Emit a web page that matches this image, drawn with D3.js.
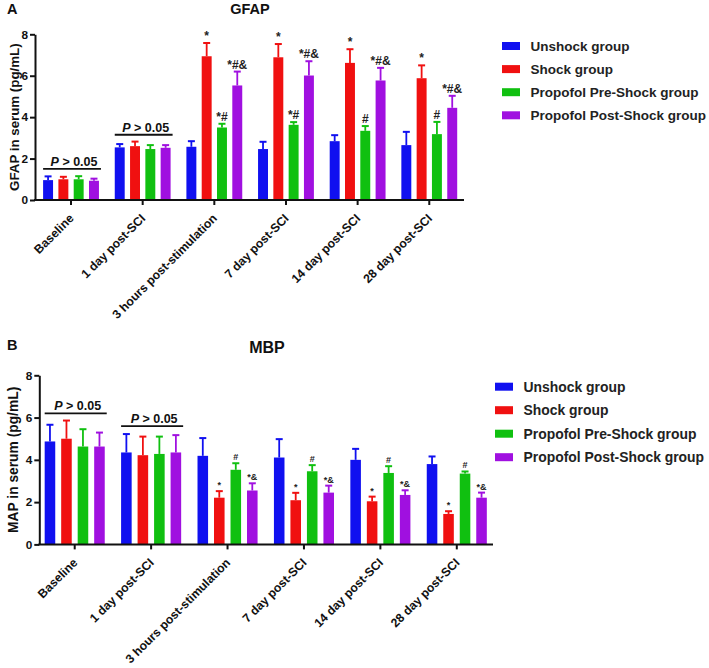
<!DOCTYPE html>
<html><head><meta charset="utf-8">
<script src="https://cdn.jsdelivr.net/npm/d3@7"></script>
<style>
html,body{margin:0;padding:0;background:#fff;}
svg{display:block;font-family:"Liberation Sans",Arial,sans-serif;font-weight:bold;}
</style></head>
<body>
<svg id="chart" width="709" height="668"></svg>
<script>
const categories = ["Baseline","1 day post-SCI","3 hours post-stimulation","7 day post-SCI","14 day post-SCI","28 day post-SCI"];
const groups = ["Unshock group","Shock group","Propofol Pre-Shock group","Propofol Post-Shock group"];
const colors = ["#1010F0","#F01010","#10C010","#A010E0"];
const yTicks = [0,2,4,6,8];

// GFAP (panel A): mean and upper error per group across categories
const gfapUnshock = [0.96, 2.54, 2.57, 2.46, 2.84, 2.65];
const gfapShock   = [1.00, 2.60, 6.94, 6.89, 6.62, 5.88];
const gfapPre     = [1.00, 2.46, 3.50, 3.63, 3.34, 3.18];
const gfapPost    = [0.93, 2.52, 5.53, 6.01, 5.77, 4.45];
const gfapUnshockErr = [0.18, 0.16, 0.27, 0.35, 0.29, 0.64];
const gfapShockErr   = [0.12, 0.22, 0.64, 0.64, 0.66, 0.62];
const gfapPreErr     = [0.15, 0.19, 0.18, 0.13, 0.23, 0.59];
const gfapPostErr    = [0.10, 0.13, 0.67, 0.69, 0.61, 0.58];
const gfapMarks = [
  ["","","","","",""],
  ["","","*","*","*","*"],
  ["","","*#","*#","#","#"],
  ["","","*#&","*#&","*#&","*#&"]
];

// MBP (panel B)
const mbpUnshock = [4.87, 4.35, 4.19, 4.11, 4.00, 3.80];
const mbpShock   = [5.00, 4.22, 2.21, 2.09, 2.04, 1.44];
const mbpPre     = [4.63, 4.28, 3.53, 3.46, 3.38, 3.35];
const mbpPost    = [4.63, 4.35, 2.55, 2.45, 2.34, 2.21];
const mbpUnshockErr = [0.79, 0.87, 0.84, 0.87, 0.52, 0.36];
const mbpShockErr   = [0.86, 0.88, 0.31, 0.35, 0.22, 0.13];
const mbpPreErr     = [0.82, 0.82, 0.31, 0.29, 0.32, 0.10];
const mbpPostErr    = [0.66, 0.82, 0.34, 0.33, 0.22, 0.24];
const mbpMarks = [
  ["","","","","",""],
  ["","","*","*","*","*"],
  ["","","#","#","#","#"],
  ["","","*&","*&","*&","*&"]
];
const nsLabel = "> 0.05";
const nsCategories = ["Baseline","1 day post-SCI"];

const svg = d3.select("#chart");

function panel(cfg){
  const g = svg.append("g");
  const y = d3.scaleLinear().domain([0,8]).range([cfg.y0, cfg.y8]);
  const x0 = d3.scaleBand().domain(categories).range(cfg.xRange);
  const x1 = d3.scaleBand().domain(groups).range([-cfg.half, cfg.half]).paddingInner(cfg.pad).paddingOuter(cfg.pad/2);

  const rows = [];
  groups.forEach((grp,gi)=>{
    categories.forEach((c,ci)=>{
      rows.push({grp, gi, c, v: cfg.means[gi][ci], e: cfg.errs[gi][ci], m: cfg.marks[gi][ci]});
    });
  });
  const bx = d => x0(d.c) + x0.bandwidth()/2 + x1(d.grp);
  g.selectAll("rect.bar").data(rows).join("rect")
    .attr("x", bx).attr("width", x1.bandwidth())
    .attr("y", d=>y(d.v)).attr("height", d=>y(0)-y(d.v))
    .attr("fill", d=>colors[d.gi]);
  const cx = d => bx(d) + x1.bandwidth()/2;
  g.selectAll("line.err").data(rows).join("line")
    .attr("x1", cx).attr("x2", cx)
    .attr("y1", d=>y(d.v)).attr("y2", d=>y(d.v+d.e))
    .attr("stroke", d=>colors[d.gi]).attr("stroke-width", 1.8);
  g.selectAll("line.cap").data(rows).join("line")
    .attr("x1", d=>cx(d)-3.5).attr("x2", d=>cx(d)+3.5)
    .attr("y1", d=>y(d.v+d.e)).attr("y2", d=>y(d.v+d.e))
    .attr("stroke", d=>colors[d.gi]).attr("stroke-width", 2);
  g.selectAll("text.mark").data(rows.filter(d=>d.m)).join("text")
    .attr("x", cx).attr("y", d=>y(d.v+d.e)-3)
    .attr("text-anchor","middle").attr("font-size", cfg.markSize).attr("fill","#222")
    .text(d=>d.m);

  nsCategories.forEach((c,i)=>{
    const left = x0(c)+x0.bandwidth()/2 + x1(groups[0]);
    const right = x0(c)+x0.bandwidth()/2 + x1(groups[3]) + x1.bandwidth();
    const ly = y(cfg.nsLevel[i]);
    g.append("line").attr("x1", left).attr("x2", right+2).attr("y1", ly).attr("y2", ly)
      .attr("stroke","#111").attr("stroke-width",1.8);
    const t = g.append("text").attr("x",(left+right)/2+3).attr("y", ly-3)
      .attr("text-anchor","middle").attr("font-size",12.5).attr("fill","#111");
    t.append("tspan").attr("font-style","italic").text("P");
    t.append("tspan").text(" " + nsLabel);
  });

  const ya = g.append("g").attr("transform",`translate(${cfg.yAxisX},0)`)
    .call(d3.axisLeft(y).tickValues(yTicks).tickSize(5).tickSizeOuter(0).tickPadding(2));
  ya.select(".domain").attr("stroke","#111").attr("stroke-width",2);
  ya.selectAll(".tick line").attr("stroke","#111").attr("stroke-width",2);
  ya.selectAll(".tick text").attr("font-size",11.8).attr("font-weight","bold").attr("fill","#111")
    .attr("font-family","Liberation Sans, Arial, sans-serif");

  const xa = g.append("g").attr("transform",`translate(0,${cfg.y0})`)
    .call(d3.axisBottom(x0).tickSize(5).tickSizeOuter(0));
  xa.select(".domain").remove();
  xa.insert("line",":first-child").attr("x1",cfg.yAxisX-1).attr("x2",cfg.xEnd).attr("y1",0).attr("y2",0)
    .attr("stroke","#111").attr("stroke-width",2);
  xa.selectAll(".tick line").attr("stroke","#111").attr("stroke-width",2);
  xa.selectAll(".tick text").attr("font-size",12.2).attr("font-weight","bold").attr("fill","#111")
    .attr("font-family","Liberation Sans, Arial, sans-serif")
    .attr("text-anchor","end").attr("y",0).attr("dy","0.35em")
    .attr("transform","translate(0.5,16) rotate(-45)");

  g.append("text").attr("transform",`translate(${cfg.yLabelX},${(cfg.y0+cfg.y8)/2}) rotate(-90)`)
    .attr("text-anchor","middle").attr("font-size",cfg.yLabelSize).attr("fill","#111").text(cfg.yLabel);
  g.append("text").attr("x",cfg.titleX).attr("y",cfg.titleY).attr("text-anchor","middle")
    .attr("font-size",cfg.titleSize).attr("fill","#111").text(cfg.title);
  g.append("text").attr("x",7).attr("y",cfg.letterY).attr("font-size",14.5).attr("fill","#111").text(cfg.letter);

  const lg = g.append("g");
  groups.forEach((grp,i)=>{
    const ry = cfg.legY + i*cfg.legStep;
    lg.append("rect").attr("x",cfg.legX).attr("y",ry-4).attr("width",18).attr("height",8).attr("fill",colors[i]);
    lg.append("text").attr("x",cfg.legX+28.5).attr("y",ry).attr("dy","0.35em")
      .attr("font-size",cfg.legSize).attr("fill","#222").text(grp);
  });
}

panel({
  y0:200, y8:34.3, xRange:[35.2,465.1], xEnd:464, half:30.6, pad:0.35, yAxisX:35,
  means:[gfapUnshock,gfapShock,gfapPre,gfapPost],
  errs:[gfapUnshockErr,gfapShockErr,gfapPreErr,gfapPostErr],
  marks:gfapMarks, markSize:12, nsLevel:[1.5,3.15],
  yLabel:"GFAP in serum (pg/mL)", yLabelX:19, yLabelSize:13.3,
  title:"GFAP", titleX:250, titleY:14, titleSize:14.5, letter:"A", letterY:14,
  legX:502, legY:46, legStep:23.1, legSize:13.5
});
panel({
  y0:544.4, y8:375.3, xRange:[36.5,495], xEnd:493, half:33, pad:0.36, yAxisX:39.3,
  means:[mbpUnshock,mbpShock,mbpPre,mbpPost],
  errs:[mbpUnshockErr,mbpShockErr,mbpPreErr,mbpPostErr],
  marks:mbpMarks, markSize:9, nsLevel:[6.2,5.6],
  yLabel:"MAP in serum (pg/mL)", yLabelX:17.5, yLabelSize:13.8,
  title:"MBP", titleX:267, titleY:353, titleSize:16, letter:"B", letterY:350,
  legX:495, legY:386.7, legStep:23.5, legSize:13.9
});
</script>
</body></html>
